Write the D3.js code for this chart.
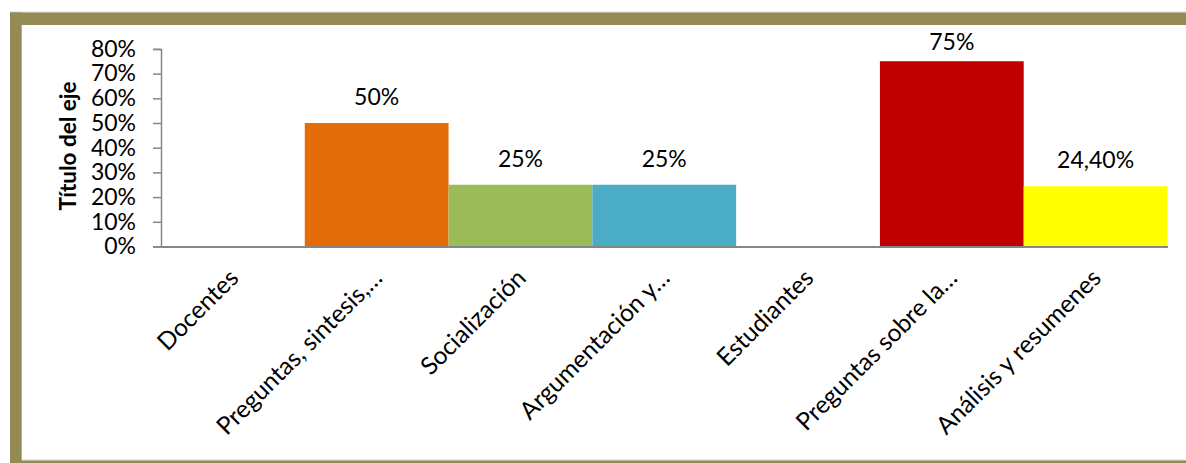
<!DOCTYPE html>
<html><head><meta charset="utf-8">
<script src="https://cdn.jsdelivr.net/npm/d3@7/dist/d3.min.js"></script>
<style>body{margin:0;background:#fff}svg{display:block}</style>
</head><body>
<svg id="c" width="1186" height="463"></svg>
<script>
const categories = ["Docentes","Preguntas, sintesis,…","Socialización","Argumentación y…","Estudiantes","Preguntas sobre la…","Análisis y resumenes"];
const values = [null, 0.50, 0.25, 0.25, null, 0.75, 0.244];
const dataLabels = ["", "50%", "25%", "25%", "", "75%", "24,40%"];
const colors = ["#E36C09","#E36C09","#9BBB59","#4BACC6","#C00000","#C00000","#FFFF00"];
const yTicks = [0,0.1,0.2,0.3,0.4,0.5,0.6,0.7,0.8];
const yTitle = "Título del eje";

const svg = d3.select("#c");
const font = "Lato, 'Open Sans', sans-serif";
const frame = "#948A54";

// frame
svg.append("line").attr("x1",10).attr("x2",1186).attr("y1",12).attr("y2",12).attr("stroke","#d8d8d8").attr("stroke-width",1);
svg.append("rect").attr("x",10).attr("y",12.5).attr("width",1176).attr("height",12.5).attr("fill",frame);
svg.append("rect").attr("x",10).attr("y",12.5).attr("width",11.7).attr("height",451).attr("fill",frame);
svg.append("line").attr("x1",22).attr("x2",1186).attr("y1",460).attr("y2",460).attr("stroke","#d8d8d8").attr("stroke-width",1);
svg.append("rect").attr("x",10).attr("y",460.5).attr("width",1176).attr("height",3).attr("fill",frame);

const x0 = 161, x1 = 1167.5, yBase = 246.5, yTop = 48.9;
const x = d3.scaleBand().domain(categories).range([x0, x1]).padding(0);
const y = d3.scaleLinear().domain([0, 0.8]).range([yBase, yTop]);

// bars
svg.append("g").selectAll("rect").data(categories).join("rect")
  .filter((d,i)=>values[i]!=null)
  .attr("x", d=>x(d))
  .attr("width", x.bandwidth())
  .attr("y", d=>y(values[categories.indexOf(d)]))
  .attr("height", d=>yBase - y(values[categories.indexOf(d)]))
  .attr("fill", d=>colors[categories.indexOf(d)]);

// data labels (clamped inside the plot area like Excel)
svg.append("g").selectAll("text").data(categories).join("text")
  .attr("x", d=>x(d)+x.bandwidth()/2)
  .attr("y", d=>{const v=values[categories.indexOf(d)]; return v==null?0:Math.max(y(v)-18, yTop+1);})
  .attr("text-anchor","middle")
  .attr("font-family",font).attr("font-size",23).attr("fill","#000")
  .text(d=>dataLabels[categories.indexOf(d)]);

// y axis
const ya = svg.append("g").attr("transform",`translate(${x0},0)`)
  .call(d3.axisLeft(y).tickValues(yTicks).tickFormat(d3.format(".0%")).tickSize(8).tickPadding(17));
ya.select(".domain").attr("stroke","#868686").attr("stroke-width",1.5);
ya.selectAll(".tick line").attr("stroke","#868686").attr("stroke-width",1.5);
ya.selectAll(".tick text").attr("font-family",font).attr("font-size",23).attr("fill","#000");

// x axis
const xa = svg.append("g").attr("transform",`translate(0,${yBase})`)
  .call(d3.axisBottom(x).tickSize(0).tickFormat(""));
xa.select(".domain").attr("stroke","#868686").attr("stroke-width",2);

// category labels
svg.append("g").selectAll("text").data(categories).join("text")
  .attr("transform", d=>`translate(${x(d)+x.bandwidth()/2+7},${yBase+33}) rotate(-45)`)
  .attr("text-anchor","end")
  .attr("font-family",font).attr("font-size",24.5).attr("fill","#000")
  .text(d=>d);

// y title
svg.append("text")
  .attr("transform","translate(76,146) rotate(-90)")
  .attr("text-anchor","middle")
  .attr("font-family",font).attr("font-weight","bold").attr("font-size",22.5).attr("fill","#000")
  .text(yTitle);
</script>
</body></html>
